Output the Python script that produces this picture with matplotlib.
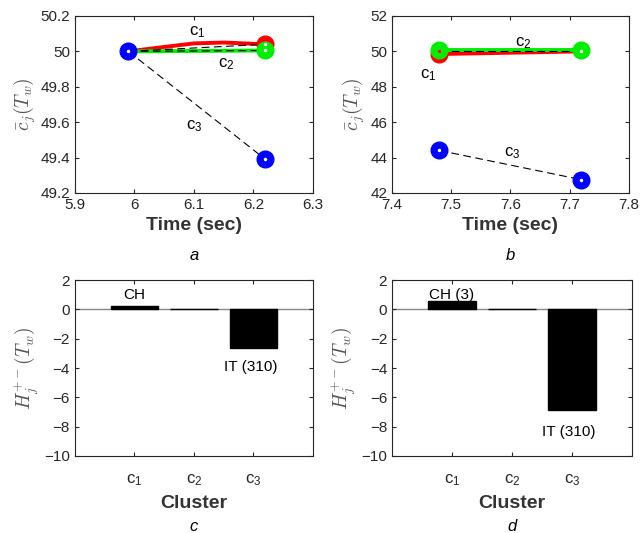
import matplotlib
matplotlib.use("Agg")
import matplotlib.pyplot as plt
import numpy as np

plt.rcParams['font.family'] = ['Liberation Sans', 'DejaVu Sans']
plt.rcParams['mathtext.fontset'] = 'custom'
plt.rcParams['mathtext.rm'] = 'Liberation Sans'
plt.rcParams['mathtext.it'] = 'Liberation Sans:italic'

# ---- data panel a ----
a_t = [5.99, 6.22]
a_red_x = [5.99, 6.05, 6.10, 6.15, 6.22]
a_red_y = [50.0, 50.025, 50.045, 50.05, 50.04]
a_green_y = [50.0, 50.005]
a_blue_y = [50.0, 49.39]
a_red_end = 50.04

# ---- data panel b ----
b_t = [7.48, 7.72]
b_red_y = [49.85, 50.0]
b_green_y = [50.05, 50.05]
b_blue_y = [44.4, 42.75]

# ---- data bars ----
clusters = ['c$_1$', 'c$_2$', 'c$_3$']
c_vals = [0.2, 0.02, -2.65]
d_vals = [0.55, 0.02, -6.85]

gray = '#262626'
fig = plt.figure(figsize=(6.4, 5.33), dpi=100)

def style(ax):
    for s in ax.spines.values():
        s.set_color(gray)
        s.set_linewidth(0.8)
    ax.tick_params(direction='in', top=True, right=True, colors=gray,
                   labelsize=11, length=3, width=0.8)
    for l in ax.get_xticklabels() + ax.get_yticklabels():
        l.set_color(gray)

def dash(ax, x, y):
    ax.plot(x, y, color='black', lw=0.8, linestyle=(0, (7, 4)), zorder=4)

# panel a
axa = fig.add_axes([0.117, 0.638, 0.372, 0.332])
axa.plot(a_red_x, a_red_y, color='red', lw=2.8, zorder=2)
axa.plot(a_t, a_green_y, color='#00ee00', lw=2.8, zorder=3)
dash(axa, a_t, [a_blue_y[0], a_red_end])
dash(axa, a_t, a_green_y)
dash(axa, a_t, a_blue_y)
axa.plot([a_t[1]], [a_red_end], 'o', color='red', ms=12, zorder=5)
axa.plot([a_t[1]], [a_green_y[1]], 'o', color='#00ee00', ms=12, zorder=6)
axa.plot(a_t, a_blue_y, 'o', color='blue', ms=12, lw=0, zorder=7)
axa.plot(a_t + [a_t[1], a_t[1]], a_blue_y + [a_red_end, a_green_y[1]], 'o',
         color='white', ms=1.5, lw=0, zorder=8)
axa.set_xlim(5.9, 6.3)
axa.set_ylim(49.2, 50.2)
axa.set_xticks([5.9, 6.0, 6.1, 6.2, 6.3])
axa.set_xticklabels(['5.9', '6', '6.1', '6.2', '6.3'])
axa.set_yticks([49.2, 49.4, 49.6, 49.8, 50.0, 50.2])
axa.set_yticklabels(['49.2', '49.4', '49.6', '49.8', '50', '50.2'])
axa.text(6.105, 50.11, 'c$_1$', fontsize=12, ha='center', va='center')
axa.text(6.155, 49.93, 'c$_2$', fontsize=12, ha='center', va='center')
axa.text(6.10, 49.58, 'c$_3$', fontsize=12, ha='center', va='center')

# panel b
axb = fig.add_axes([0.6125, 0.638, 0.370, 0.332])
axb.plot(b_t, b_red_y, color='red', lw=2.8, zorder=2)
axb.plot(b_t, b_green_y, color='#00ee00', lw=2.8, zorder=3)
dash(axb, b_t, [50.0, 50.0])
dash(axb, b_t, b_blue_y)
axb.plot([b_t[0]], [b_red_y[0]], 'o', color='red', ms=12, zorder=5)
axb.plot(b_t, b_green_y, 'o', color='#00ee00', ms=12, lw=0, zorder=6)
axb.plot(b_t, b_blue_y, 'o', color='blue', ms=12, lw=0, zorder=7)
axb.plot(b_t + b_t, [50.0, 50.0] + b_blue_y, 'o', color='white', ms=1.5, lw=0, zorder=8)
axb.plot([b_t[0]], [50.0], 'o', color='red', ms=1.5, zorder=9)
axb.set_xlim(7.4, 7.8)
axb.set_ylim(42, 52)
axb.set_xticks([7.4, 7.5, 7.6, 7.7, 7.8])
axb.set_yticks([42, 44, 46, 48, 50, 52])
axb.text(7.621, 50.47, 'c$_2$', fontsize=12, ha='center', va='center')
axb.text(7.461, 48.67, 'c$_1$', fontsize=12, ha='center', va='center')
axb.text(7.603, 44.26, 'c$_3$', fontsize=12, ha='center', va='center')

for ax, lab in [(axa, 'a'), (axb, 'b')]:
    style(ax)
    ax.set_xlabel('Time (sec)', fontsize=14, fontweight='bold', color='#333333', labelpad=4)
    ax.set_ylabel(r'$\bar{c}_j(T_w)$', fontsize=14, color='#555555', math_fontfamily='cm', labelpad=2)
    ax.text(0.5, -0.355, lab, transform=ax.transAxes, fontsize=12, style='italic',
            ha='center', va='center')

# bar panels
axc = fig.add_axes([0.117, 0.1445, 0.372, 0.330])
axd = fig.add_axes([0.6125, 0.1445, 0.375, 0.330])
xpos = np.arange(1, len(clusters) + 1)
for ax, vals, lab, t1, t1y, t2y in [(axc, c_vals, 'c', 'CH', 0.95, -3.95),
                                    (axd, d_vals, 'd', 'CH (3)', 1.0, -8.35)]:
    ax.axhline(0, color='#888888', lw=1.0, zorder=1)
    ax.bar(xpos, vals, width=0.8, color='black', edgecolor='black', zorder=2)
    ax.set_xlim(0, 4)
    ax.set_ylim(-10, 2)
    ax.set_xticks(xpos)
    ax.set_xticklabels(clusters)
    ax.set_yticks([-10, -8, -6, -4, -2, 0, 2])
    style(ax)
    ax.tick_params(axis='x', pad=12, labelsize=12)
    ax.text(1, t1y, t1, fontsize=11, ha='center', va='center')
    ax.text(2.95, t2y, 'IT (310)', fontsize=11, ha='center', va='center')
    ax.set_xlabel('Cluster', fontsize=14, fontweight='bold', color='#333333', labelpad=5)
    ax.set_ylabel(r'$H_j^{+-}(T_w)$', fontsize=14, color='#555555', math_fontfamily='cm', labelpad=2)
    ax.text(0.5, -0.40, lab, transform=ax.transAxes, fontsize=12, style='italic',
            ha='center', va='center')

fig.savefig('out.png', dpi=100)
